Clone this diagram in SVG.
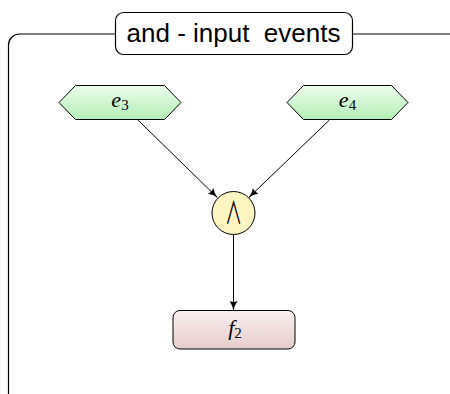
<svg xmlns="http://www.w3.org/2000/svg" width="450" height="394" viewBox="0 0 450 394">
<defs>
<linearGradient id="gGreen" x1="0" y1="0" x2="0" y2="1">
<stop offset="0" stop-color="#ecfcec"/>
<stop offset="1" stop-color="#b4efb4"/>
</linearGradient>
<linearGradient id="gPink" x1="0" y1="0" x2="0" y2="1">
<stop offset="0" stop-color="#faf0f0"/>
<stop offset="1" stop-color="#e6cccc"/>
</linearGradient>
<marker id="arr" viewBox="0 0 10 8" refX="9.5" refY="4" markerWidth="10" markerHeight="8" markerUnits="userSpaceOnUse" orient="auto">
<path d="M0,0 Q4,3 10,4 Q4,5 0,8 Q2,4 0,0 z" fill="#000"/>
</marker>
<style>
.frame{fill:none;stroke:#000;stroke-width:1.2}
.box{stroke:#000;stroke-width:1}
.lbl{font-family:"Liberation Serif","DejaVu Serif",serif;font-style:italic;font-size:22px;text-anchor:middle}
.sub{font-size:15px;font-style:normal}
.edge{stroke:#000;stroke-width:1;fill:none;marker-end:url(#arr)}
</style>
</defs>
<rect class="frame" x="8.5" y="34" width="470" height="372" rx="11"/>
<g id="title">
<rect x="115.5" y="12.5" width="237" height="42" rx="8" fill="#fff" stroke="#000" stroke-width="1.2"/>
<text x="233.5" y="42" font-family="'Liberation Sans',Arial,sans-serif" font-size="26" text-anchor="middle" xml:space="preserve">and - input  events</text>
</g>
<g id="connectors">
<line class="edge" x1="137.9" y1="120" x2="217.3" y2="197.5"/>
<line class="edge" x1="329.4" y1="120" x2="248.9" y2="197.5"/>
<line class="edge" x1="233.5" y1="235" x2="233.5" y2="310.5"/>
</g>
<g id="e3">
<polygon class="box" points="59,102.5 75.5,85.5 164.5,85.5 181,102.5 164.5,119.5 75.5,119.5" fill="url(#gGreen)"/>
<text class="lbl" x="120" y="106.5">e<tspan class="sub" dy="3.5">3</tspan></text>
</g>
<g id="e4">
<polygon class="box" points="287,102.5 303.5,85.5 391.5,85.5 408,102.5 391.5,119.5 303.5,119.5" fill="url(#gGreen)"/>
<text class="lbl" x="347.5" y="106.5">e<tspan class="sub" dy="3.5">4</tspan></text>
</g>
<g id="and">
<circle class="box" cx="233.5" cy="213" r="21.5" fill="#fdf6c3"/>
<text transform="translate(233.5,224) scale(0.66,1.2)" x="0" y="0" font-family="'Noto Sans CJK JP',sans-serif" font-weight="400" font-size="26" text-anchor="middle">∧</text>
</g>
<g id="f2">
<rect class="box" x="173" y="310.5" width="122" height="38.5" rx="7" fill="url(#gPink)"/>
<text class="lbl" x="235" y="335">f<tspan class="sub" dy="3">2</tspan></text>
</g>
</svg>
